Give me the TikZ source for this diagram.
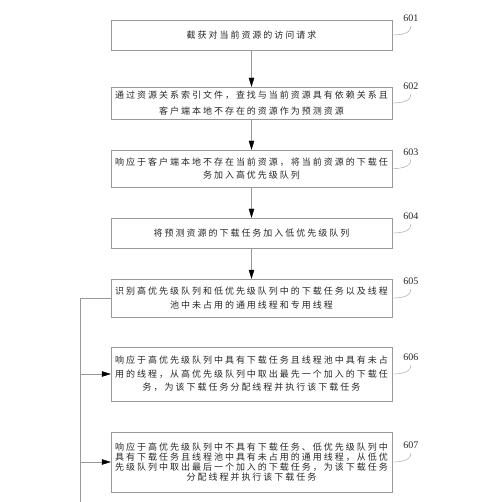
\documentclass[tikz,border=0pt]{standalone}
\usepackage{fontspec}
\usepackage{tikz}
\usetikzlibrary{positioning,arrows.meta}
\newfontfamily\cjk[LetterSpace=22]{Noto Sans CJK SC}
\newfontfamily\numfont{Liberation Serif}
\tikzset{mystep/.style={draw=gray!80,minimum width=281pt,minimum height=#1,inner sep=0pt,align=center,text=black!85,font=\cjk\fontsize{9}{13.5}\selectfont},
mynum/.style={inner sep=0pt,text=black!85,font=\numfont\fontsize{10}{12}\selectfont,above right=13pt and 11pt of #1.east},
myline/.style={draw=gray!80},
myarrow/.style={draw=gray!80,-{Triangle[black,length=9pt,width=5.5pt]}}}

\begin{document}
\begin{tikzpicture}[x=1pt,y=-1pt]
\useasboundingbox (0,0) rectangle (500,502);
\node[mystep=30pt] (step601) at (251.5,35) {截获对当前资源的访问请求};
\node[mystep=32pt,font=\cjk\fontsize{9}{16}\selectfont] (step602) at (251.5,103) {通过资源关系索引文件，查找与当前资源具有依赖关系且\\客户端本地不存在的资源作为预测资源};
\node[mystep=37pt] (step603) at (251.5,168.5) {响应于客户端本地不存在当前资源，将当前资源的下载任\\务加入高优先级队列};
\node[mystep=30pt] (step604) at (251.5,233) {将预测资源的下载任务加入低优先级队列};
\node[mystep=38pt] (step605) at (251.5,298) {识别高优先级队列和低优先级队列中的下载任务以及线程\\池中未占用的通用线程和专用线程};
\node[mystep=54pt] (step606) at (251.5,374) {响应于高优先级队列中具有下载任务且线程池中具有未占\\用的线程，从高优先级队列中取出最先一个加入的下载任\\务，为该下载任务分配线程并执行该下载任务};
\node[mystep=60pt,font=\cjk\fontsize{9}{10}\selectfont] (step607) at (251.5,462) {响应于高优先级队列中不具有下载任务、低优先级队列中\\具有下载任务且线程池中具有未占用的通用线程，从低优\\先级队列中取出最后一个加入的下载任务，为该下载任务\\分配线程并执行该下载任务};
\foreach \n in {601,...,607}{
  \node[mynum=step\n] (num\n) {\n};
  \draw[myline] (step\n.east) to[out=0,in=-90] ([yshift=-4pt]num\n.south);
}
\draw[myarrow] (step601) -- (step602);
\draw[myarrow] (step602) -- (step603);
\draw[myarrow] (step603) -- (step604);
\draw[myarrow] (step604) -- (step605);
\coordinate (busTop) at (80,298);
\coordinate (busEnd) at (80,502);
\draw[myline] (step605.west) -- (busTop) -- (busEnd);
\draw[myarrow] (step606.west -| busTop) -- (step606.west);
\draw[myarrow] (step607.west -| busTop) -- (step607.west);
\end{tikzpicture}
\end{document}
